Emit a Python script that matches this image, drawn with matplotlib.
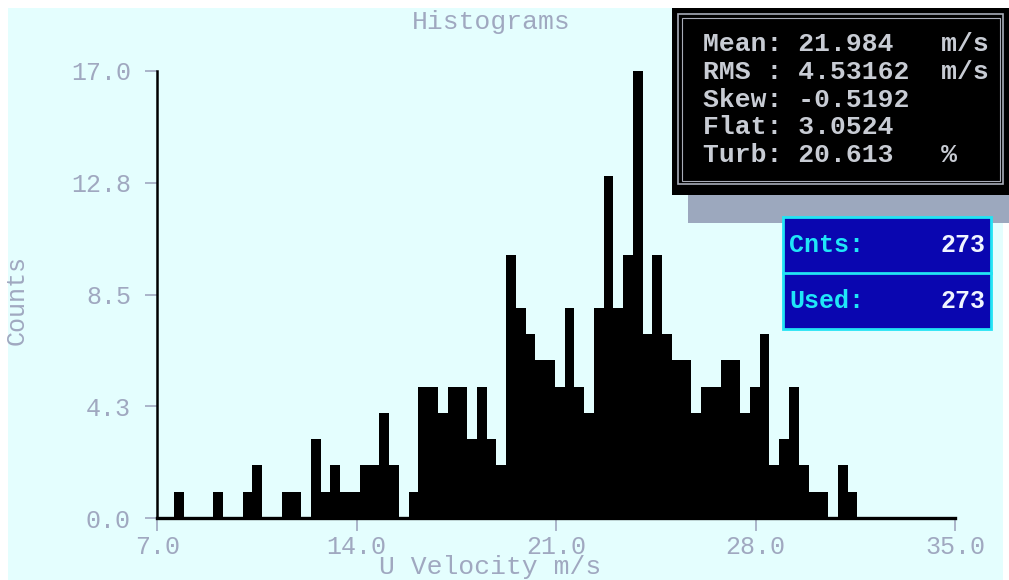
import numpy as np
import matplotlib
matplotlib.use("Agg")
import matplotlib.pyplot as plt
from matplotlib.patches import Rectangle

# ---- data -------------------------------------------------------------
counts = [1, 0, 0, 0, 1, 0, 0, 1, 2, 0,
          0, 1, 1, 0, 3, 1, 2, 1, 1, 2,
          2, 4, 2, 0, 1, 5, 5, 4, 5, 5,
          3, 5, 3, 2, 10, 8, 7, 6, 6, 5,
          8, 5, 4, 8, 13, 8, 10, 17, 7, 10,
          7, 6, 6, 4, 5, 5, 6, 6, 4, 5,
          7, 2, 3, 5, 2, 1, 1, 0, 2, 1]
u_min, u_max = 7.60, 31.57          # velocity range covered by the bins (m/s)

x_ticks = [7.0, 14.0, 21.0, 28.0, 35.0]
x_ticklabels = ["7.0", "14.0", "21.0", "28.0", "35.0"]
y_ticks = [0.0, 4.25, 8.5, 12.75, 17.0]
y_ticklabels = ["0.0", "4.3", "8.5", "12.8", "17.0"]

stats_lines = ["Mean: 21.984   m/s",
               "RMS : 4.53162  m/s",
               "Skew: -0.5192",
               "Flat: 3.0524",
               "Turb: 20.613   %"]
count_labels = ["Cnts:", "Used:"]
count_values = ["273", "273"]

# ---- style ------------------------------------------------------------
BG = "#E4FEFE"
LABEL = "#A0A8C0"
MONO = "Liberation Mono"

W, H = 1009, 580
fig = plt.figure(figsize=(W / 100, H / 100), dpi=100)
fig.patch.set_facecolor("white")

# background panel (pixel coordinates)
bg = fig.add_axes([0, 0, 1, 1], zorder=0)
bg.set_xlim(0, W)
bg.set_ylim(H, 0)
bg.axis("off")
bg.add_patch(Rectangle((8, 8), W - 14, H - 8, facecolor=BG, edgecolor="none"))

# ---- histogram axes ---------------------------------------------------
x0, x1, ytop, ybot = 157.3, 955.0, 71.0, 518.0
ax = fig.add_axes([x0 / W, (H - ybot) / H, (x1 - x0) / W, (ybot - ytop) / H], zorder=1)
ax.set_facecolor("none")

edges = np.linspace(u_min, u_max, len(counts) + 1)
ax.stairs(counts, edges, fill=True, color="black", baseline=0)

ax.set_xlim(7, 35)
ax.set_ylim(0, 17)
for side in ("top", "right"):
    ax.spines[side].set_visible(False)
ax.spines["left"].set_linewidth(1.8)
ax.spines["bottom"].set_linewidth(2.4)
ax.spines["left"].set_color("black")
ax.spines["bottom"].set_color("black")

ax.set_xticks(x_ticks)
ax.set_xticklabels(x_ticklabels)
ax.set_yticks(y_ticks)
ax.set_yticklabels(y_ticklabels)
ax.tick_params(axis="x", direction="out", length=9.5, width=1.2, color=LABEL,
               pad=2.5, labelsize=18, labelcolor=LABEL)
ax.tick_params(axis="y", direction="out", length=9, width=1.2, color=LABEL,
               pad=10, labelsize=18, labelcolor=LABEL)
for lab in ax.get_xticklabels() + ax.get_yticklabels():
    lab.set_fontfamily(MONO)

# ---- overlay: titles, statistics panel, count panel -------------------
ov = fig.add_axes([0, 0, 1, 1], zorder=2)
ov.set_xlim(0, W)
ov.set_ylim(H, 0)
ov.axis("off")

ov.text(491.5, 22, "Histograms", ha="center", va="center", fontsize=19,
        family=MONO, color=LABEL)
ov.text(490, 574, "U Velocity m/s", ha="center", va="baseline", fontsize=19,
        family=MONO, color=LABEL)
ov.text(16.5, 300, "Counts", ha="center", va="center", rotation=90,
        fontsize=18, family=MONO, color=LABEL)

# statistics panel with drop shadow
ov.add_patch(Rectangle((688, 195), W - 688, 28, facecolor="#9CA8BE", edgecolor="none"))
ov.add_patch(Rectangle((672, 8), W - 672, 187, facecolor="black", edgecolor="none"))
ov.add_patch(Rectangle((678, 14), 325, 170, facecolor="none", edgecolor="#A8ACB8", lw=1.2))
ov.add_patch(Rectangle((681.5, 17.5), 318, 163, facecolor="none", edgecolor="#A8ACB8", lw=0.8))
for i, line in enumerate(stats_lines):
    ov.text(703, 44 + i * 27.8, line, ha="left", va="center", fontsize=19,
            family=MONO, weight="bold", color="#C8CCD4")

# count panel
ov.add_patch(Rectangle((783, 217), 208, 112, facecolor="#0A06B0",
                       edgecolor="#22E4F4", lw=2))
ov.plot([783, 991], [273, 273], color="#22E4F4", lw=2)
for i, (lab, val) in enumerate(zip(count_labels, count_values)):
    yc = 245 + i * 56
    ov.text(789, yc, lab, ha="left", va="center", fontsize=18, family=MONO,
            weight="bold", color="#1FE6F8")
    ov.text(985, yc, val, ha="right", va="center", fontsize=18, family=MONO,
            weight="bold", color="#F0F4FF")

fig.savefig("out.png", dpi=100, facecolor=fig.get_facecolor())
